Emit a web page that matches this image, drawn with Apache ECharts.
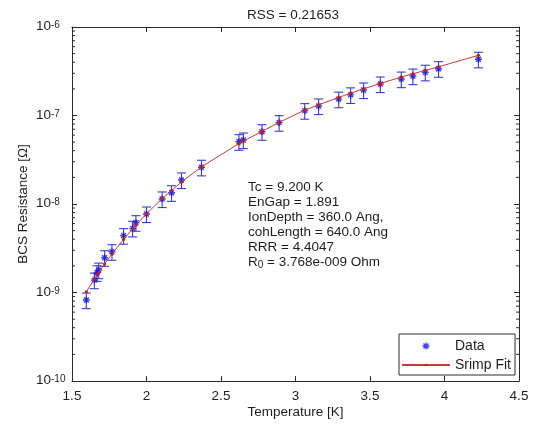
<!DOCTYPE html>
<html>
<head>
<meta charset="utf-8">
<script src="https://cdn.jsdelivr.net/npm/echarts@6/dist/echarts.min.js"></script>
<style>
html, body { margin: 0; padding: 0; background: #fff; }
#chart { width: 534px; height: 424px; }
</style>
</head>
<body>
<div id="chart"></div>
<script>
// Measured BCS surface resistance vs. temperature
const temperature = [1.596, 1.650, 1.668, 1.679, 1.719, 1.768, 1.846, 1.907, 1.929, 2.000,
  2.105, 2.168, 2.235, 2.369, 2.620, 2.650, 2.775, 2.890, 3.062, 3.155,
  3.290, 3.370, 3.457, 3.569, 3.710, 3.788, 3.871, 3.960, 4.228];
const resistance = [8.22e-10, 1.38e-9, 1.67e-9, 1.79e-9, 2.47e-9, 2.89e-9, 4.39e-9, 5.31e-9, 6.15e-9, 7.71e-9,
  1.14e-8, 1.34e-8, 1.87e-8, 2.60e-8, 5.06e-8, 5.28e-8, 6.56e-8, 8.30e-8, 1.135e-7, 1.28e-7,
  1.53e-7, 1.71e-7, 1.94e-7, 2.27e-7, 2.58e-7, 2.79e-7, 3.08e-7, 3.38e-7, 4.32e-7];
// Srimp fit evaluated at the measured temperatures
const fitResistance = [1.02e-9, 1.42e-9, 1.58e-9, 1.68e-9, 2.10e-9, 2.72e-9, 3.98e-9, 5.25e-9, 5.78e-9, 7.76e-9,
  1.15e-8, 1.42e-8, 1.77e-8, 2.63e-8, 4.81e-8, 5.13e-8, 6.61e-8, 8.36e-8, 1.15e-7, 1.32e-7,
  1.60e-7, 1.79e-7, 2.00e-7, 2.30e-7, 2.72e-7, 2.96e-7, 3.24e-7, 3.55e-7, 4.79e-7];
// relative measurement uncertainty shown by the error bars
const relError = 0.2;

const xTicks = [1.5, 2, 2.5, 3, 3.5, 4, 4.5];
const yDecades = [-10, -9, -8, -7, -6];
const minorFactors = [2, 3, 4, 5, 6, 7, 8, 9];

const titleText = 'RSS = 0.21653';
const annotationLines = [
  'Tc = 9.200 K',
  'EnGap = 1.891',
  'IonDepth = 360.0 Ang,',
  'cohLength = 640.0 Ang',
  'RRR = 4.4047',
  'R{sub|0} = 3.768e-009 Ohm'
];

const FONT = 'Liberation Sans, Arial, sans-serif';
const FS = 13.5;
const TEXT = '#1e1e1e';
const FRAME = '#2a2a2a';

const errorData = temperature.map((t, i) => [t, resistance[i] * (1 - relError), resistance[i] * (1 + relError)]);
const scatterData = temperature.map((t, i) => [t, resistance[i]]);
const fitData = temperature.map((t, i) => [t, fitResistance[i]]);

const minorTickValues = [];
yDecades.slice(0, -1).forEach(d => minorFactors.forEach(f => minorTickValues.push([f * Math.pow(10, d)])));

// asterisk marker drawn as stroked strokes
const asterisk = 'path://M0,5L10,5M5,0L5,10M1.5,1.5L8.5,8.5M1.5,8.5L8.5,1.5';
// legend icons padded to the full 48x10 legend slot so they keep their size
const asteriskLegend = 'path://M0,0L0,0M48,10L48,10M20.5,5L27.5,5M24,1.5L24,8.5M21.5,2.5L26.5,7.5M21.5,7.5L26.5,2.5';
const smallDot = 'path://M0,0L0,0M10,10L10,10M5,3.4A1.6,1.6 0 1 1 5,6.6A1.6,1.6 0 1 1 5,3.4Z';

const xMin = xTicks[0], xMax = xTicks[xTicks.length - 1];
const yMin = Math.pow(10, yDecades[0]), yMax = Math.pow(10, yDecades[yDecades.length - 1]);

const xAxisBase = {
  type: 'value', min: xMin, max: xMax, interval: 0.5,
  axisLine: { show: true, onZero: false, lineStyle: { color: FRAME, width: 1 } },
  axisTick: { show: true, inside: true, length: 5, lineStyle: { color: FRAME } },
  splitLine: { show: false }
};
const yAxisBase = {
  type: 'log', logBase: 10, min: yMin, max: yMax, interval: 1,
  axisLine: { show: true, onZero: false, lineStyle: { color: FRAME, width: 1 } },
  axisTick: { show: true, inside: true, length: 5, lineStyle: { color: FRAME } },
  splitLine: { show: false }
};

const chart = echarts.init(document.getElementById('chart'), null, { renderer: 'canvas' });
chart.setOption({
  animation: false,
  backgroundColor: '#fff',
  textStyle: { fontFamily: FONT },
  title: {
    text: titleText, left: 288, top: 3, textAlign: 'center',
    textStyle: { fontFamily: FONT, fontSize: FS, fontWeight: 'normal', color: TEXT }
  },
  grid: { left: 72, right: 15, top: 27, bottom: 43, containLabel: false },
  xAxis: [
    Object.assign({}, xAxisBase, {
      position: 'bottom',
      name: 'Temperature [K]', nameLocation: 'middle', nameGap: 24, nameMoveOverlap: false,
      nameTextStyle: { fontFamily: FONT, fontSize: FS, color: TEXT },
      axisLabel: { show: true, margin: 8, fontFamily: FONT, fontSize: FS, color: TEXT }
    }),
    Object.assign({}, xAxisBase, { position: 'top', axisLabel: { show: false } })
  ],
  yAxis: [
    Object.assign({}, yAxisBase, {
      position: 'left',
      name: 'BCS Resistance [\u03A9]', nameLocation: 'middle', nameGap: 42, nameRotate: 90, nameMoveOverlap: false,
      nameTextStyle: { fontFamily: FONT, fontSize: FS, color: TEXT },
      axisLabel: {
        show: true, margin: 36, align: 'left',
        formatter: v => '{b|10}{sup|' + Math.round(Math.log10(v)) + '}',
        rich: {
          b: { fontFamily: FONT, fontSize: FS, color: TEXT, lineHeight: 13, padding: [10, 0, 0, 0], verticalAlign: 'bottom' },
          sup: { fontFamily: FONT, fontSize: 10, color: TEXT, lineHeight: 10, verticalAlign: 'top' }
        }
      }
    }),
    Object.assign({}, yAxisBase, { position: 'right', axisLabel: { show: false } })
  ],
  legend: {
    left: 399, top: 334, orient: 'vertical',
    backgroundColor: '#fff', borderColor: FRAME, borderWidth: 1,
    padding: [5, 4, 3, 2], itemWidth: 48, itemHeight: 10, itemGap: 5,
    textStyle: { fontFamily: FONT, fontSize: 14, color: TEXT },
    data: [
      { name: 'Data', icon: asteriskLegend, itemStyle: { color: 'transparent', borderColor: '#1010e0', borderWidth: 1.3 } },
      { name: 'Srimp Fit' }
    ]
  },
  series: [
    {
      name: 'minor ticks', type: 'custom', silent: true, z: 1,
      data: minorTickValues,
      renderItem: (params, api) => {
        const v = api.value(0);
        const l = api.coord([xMin, v]);
        const r = api.coord([xMax, v]);
        const st = { stroke: FRAME, lineWidth: 1 };
        return { type: 'group', children: [
          { type: 'line', shape: { x1: l[0], y1: l[1], x2: l[0] + 3, y2: l[1] }, style: st },
          { type: 'line', shape: { x1: r[0] - 3, y1: r[1], x2: r[0], y2: r[1] }, style: st }
        ] };
      }
    },
    {
      name: 'error bars', type: 'custom', silent: true, z: 2,
      data: errorData,
      renderItem: (params, api) => {
        const x = api.value(0);
        const lo = api.coord([x, api.value(1)]);
        const hi = api.coord([x, api.value(2)]);
        const cap = 4.5;
        const st = { stroke: '#3c3cc8', lineWidth: 1.1 };
        return { type: 'group', children: [
          { type: 'line', shape: { x1: lo[0], y1: lo[1], x2: hi[0], y2: hi[1] }, style: st },
          { type: 'line', shape: { x1: hi[0] - cap, y1: hi[1], x2: hi[0] + cap, y2: hi[1] }, style: st },
          { type: 'line', shape: { x1: lo[0] - cap, y1: lo[1], x2: lo[0] + cap, y2: lo[1] }, style: st }
        ] };
      }
    },
    {
      name: 'Data', type: 'scatter', z: 3,
      data: scatterData,
      symbol: asterisk, symbolSize: 7,
      itemStyle: { color: 'transparent', borderColor: '#1010e0', borderWidth: 1.4 }
    },
    {
      name: 'Srimp Fit', type: 'line', z: 4,
      data: fitData,
      showSymbol: true, symbol: smallDot, symbolSize: 10,
      itemStyle: { color: '#d01818', borderWidth: 0 },
      lineStyle: { color: '#c83a3a', width: 1 }
    }
  ],
  graphic: [
    {
      type: 'text', left: 248, top: 180, silent: true,
      style: {
        text: annotationLines.join('\n'),
        font: FS + 'px ' + FONT, fill: TEXT, lineHeight: 15,
        rich: {
          sub: { fontFamily: FONT, fontSize: 10, fill: TEXT, lineHeight: 10, padding: [8, 0, 0, 0], verticalAlign: 'bottom' }
        }
      }
    }
  ]
});
</script>
</body>
</html>
